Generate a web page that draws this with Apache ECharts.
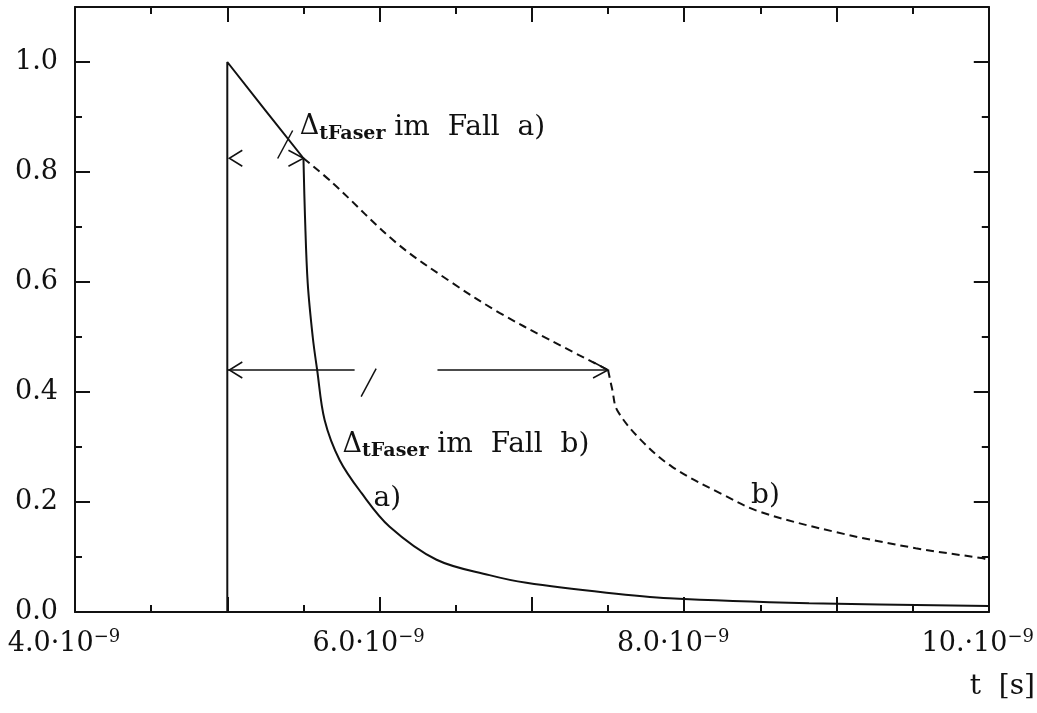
<!DOCTYPE html>
<html>
<head>
<meta charset="utf-8">
<script src="https://cdn.jsdelivr.net/npm/echarts@6/dist/echarts.min.js"></script>
<style>
  html, body { margin: 0; padding: 0; background: #ffffff; }
  #chart { width: 1037px; height: 713px; }
</style>
</head>
<body>
<div id="chart"></div>
<script>
// Times are given in units of 1e-9 s; values are relative intensities.

// Case a): pulse starts at 5.0 ns, fibre delay ends at 5.5 ns
const caseA_t = [5.0, 5.0, 5.25, 5.5, 5.51, 5.528, 5.561, 5.59, 5.639, 5.738, 5.882, 6.066, 6.374, 6.721, 6.964, 7.49, 7.902, 8.82, 10.0];
const caseA_v = [0.0, 1.0, 0.912, 0.825, 0.72, 0.598, 0.50, 0.44, 0.349, 0.276, 0.216, 0.155, 0.095, 0.067, 0.053, 0.035, 0.025, 0.016, 0.011];

// Case b): same pulse, fibre delay ends at 7.5 ns
const caseB_t = [5.5, 5.692, 6.111, 6.479, 6.787, 7.115, 7.5, 7.528, 7.56, 7.715, 7.921, 8.25, 8.5, 9.0, 9.52, 9.95, 10.0];
const caseB_v = [0.825, 0.78, 0.671, 0.598, 0.544, 0.495, 0.44, 0.404, 0.367, 0.313, 0.264, 0.214, 0.182, 0.145, 0.116, 0.098, 0.095];

// Axis tick labels
const xTickValues = [4, 6, 8, 10];
const xTickText = ['4.0', '6.0', '8.0', '10.'];
const yTickValues = [0.0, 0.2, 0.4, 0.6, 0.8, 1.0];
const yTickText = ['0.0', '0.2', '0.4', '0.6', '0.8', '1.0'];
const yMinorValues = [0.1, 0.3, 0.5, 0.7, 0.9];

// Delay intervals Δ_tFaser: [start, end, level]
const delaySpans = [[5.0, 5.5, 0.825], [5.0, 7.5, 0.44]];

const INK = '#111111';
const FONT = 'DejaVu Serif';

function zipPoints(ts, vs) {
  return ts.map((t, i) => [t, vs[i]]);
}
// the curves bend sharply where the delay ends; each side is smoothed separately
const aPts = zipPoints(caseA_t, caseA_v);
const bPts = zipPoints(caseB_t, caseB_v);
const aKink = caseA_t.indexOf(5.5);
const bKink = caseB_t.indexOf(7.5);

function xLabel(v) {
  const i = xTickValues.findIndex(x => Math.abs(x - v) < 1e-9);
  return i < 0 ? '' : '{m|' + xTickText[i] + '·10}{e|−9}';
}
function yLabel(v) {
  const i = yTickValues.findIndex(y => Math.abs(y - v) < 1e-9);
  return i < 0 ? '' : yTickText[i];
}

const xRich = {
  m: { fontFamily: FONT, fontSize: 27, lineHeight: 31, color: INK },
  e: { fontFamily: FONT, fontSize: 18, lineHeight: 18, color: INK, verticalAlign: 'top' }
};

function makeX(position, withLabels) {
  return {
    type: 'value', position: position, min: 4, max: 10, interval: 1,
    axisLine: { onZero: false, lineStyle: { color: INK, width: 2 } },
    axisTick: { inside: true, length: 15, lineStyle: { color: INK, width: 2 } },
    minorTick: { show: true, splitNumber: 2, length: 7, lineStyle: { color: INK, width: 2 } },
    splitLine: { show: false },
    minorSplitLine: { show: false },
    axisLabel: withLabels ? {
      show: true, customValues: xTickValues, margin: 16,
      formatter: xLabel, rich: xRich, padding: [0, 22, 0, 0]
    } : { show: false }
  };
}

function makeY(position, major, withLabels) {
  return {
    type: 'value', position: position, min: 0, max: 1.1,
    axisLine: { show: major, onZero: false, lineStyle: { color: INK, width: 2 } },
    axisTick: {
      inside: true, customValues: major ? yTickValues : yMinorValues,
      length: major ? 15 : 7, lineStyle: { color: INK, width: 2 }
    },
    splitLine: { show: false },
    axisLabel: withLabels ? {
      show: true, customValues: yTickValues, margin: 17, formatter: yLabel,
      fontFamily: FONT, fontSize: 27, color: INK
    } : { show: false }
  };
}

function curve(data, dashed, smooth) {
  return {
    type: 'line', data: data, showSymbol: false, symbol: 'none',
    smooth: smooth,
    lineStyle: { color: INK, width: 2, type: dashed ? [8, 5] : 'solid' }, z: 3
  };
}

const option = {
  backgroundColor: '#ffffff',
  animation: false,
  grid: { left: 75, right: 47, top: 7, bottom: 101, containLabel: false },
  xAxis: [makeX('bottom', true), makeX('top', false)],
  yAxis: [
    makeY('left', true, true), makeY('left', false, false),
    makeY('right', true, false), makeY('right', false, false)
  ],
  graphic: [{
    type: 'text', right: 2, top: 673,
    style: { text: 't  [s]', fontFamily: FONT, fontSize: 28, fill: INK }
  }],
  series: [
    curve(aPts.slice(0, aKink + 1), false, false),
    curve(aPts.slice(aKink), false, 0.35),
    curve(bPts.slice(0, bKink + 1), true, 0.35),
    curve(bPts.slice(bKink), true, 0.35),
    {
      // arrowheads marking each delay interval
      type: 'custom', coordinateSystem: 'cartesian2d', silent: true, clip: false,
      data: delaySpans,
      renderItem: function (params, api) {
        const a = api.coord([api.value(0), api.value(2)]);
        const b = api.coord([api.value(1), api.value(2)]);
        const L = 15, H = 8;
        return {
          type: 'group',
          children: [
            { type: 'polyline', shape: { points: [[a[0] + L, a[1] - H], [a[0] + 2, a[1]], [a[0] + L, a[1] + H]] },
              style: { stroke: INK, lineWidth: 1.5, fill: null } },
            { type: 'polyline', shape: { points: [[b[0] - L, b[1] - H], b, [b[0] - L, b[1] + H]] },
              style: { stroke: INK, lineWidth: 1.5, fill: null } }
          ]
        };
      }
    },
    {
      // shaft of the case b) arrow, broken around its label
      type: 'custom', coordinateSystem: 'cartesian2d', silent: true, clip: false,
      data: [[5.0, 5.836, 0.44], [6.38, 7.5, 0.44]],
      renderItem: function (params, api) {
        const a = api.coord([api.value(0), api.value(2)]);
        const b = api.coord([api.value(1), api.value(2)]);
        return { type: 'line', shape: { x1: a[0], y1: a[1], x2: b[0], y2: b[1] },
                 style: { stroke: INK, lineWidth: 1.5 } };
      }
    },
    {
      // leader strokes from the labels
      type: 'custom', coordinateSystem: 'cartesian2d', silent: true, clip: false,
      data: [[5.38, 0.85], [5.928, 0.417]],
      renderItem: function (params, api) {
        const c = api.coord([api.value(0), api.value(1)]);
        return { type: 'line', shape: { x1: c[0] - 7.5, y1: c[1] + 14, x2: c[0] + 7.5, y2: c[1] - 14 },
                 style: { stroke: INK, lineWidth: 1.5 } };
      }
    },
    {
      // text annotations
      type: 'custom', coordinateSystem: 'cartesian2d', silent: true, clip: false,
      data: [
        [5.475, 0.881, '{d|Δ}{s|tFaser}{n| im  Fall  a)}'],
        [5.757, 0.3036, '{d|Δ}{s|tFaser}{n| im  Fall  b)}'],
        [5.96, 0.2055, '{n|a)}'],
        [8.439, 0.212, '{n|b)}']
      ],
      renderItem: function (params, api) {
        const c = api.coord([api.value(0), api.value(1)]);
        return {
          type: 'text',
          style: {
            x: c[0], y: c[1], text: api.value(2),
            textAlign: 'left', textVerticalAlign: 'middle',
            fontFamily: FONT, fontSize: 28, fill: INK,
            rich: {
              d: { fontFamily: FONT, fontSize: 27, lineHeight: 32, fill: INK },
              n: { fontFamily: FONT, fontSize: 28, lineHeight: 32, fill: INK },
              s: { fontFamily: FONT, fontSize: 19, fontWeight: 'bold', lineHeight: 18, fill: INK, verticalAlign: 'bottom' }
            }
          }
        };
      }
    }
  ]
};

const chart = echarts.init(document.getElementById('chart'), null, { renderer: 'canvas' });
chart.setOption(option);
</script>
</body>
</html>
